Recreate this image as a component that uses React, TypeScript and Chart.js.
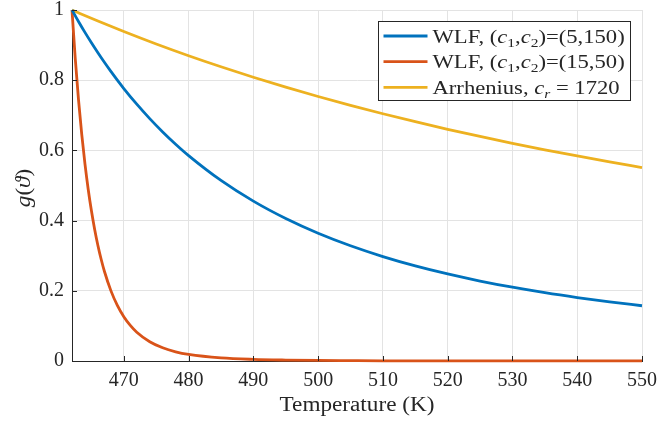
import React, { useEffect, useRef } from "react";
import { Chart, registerables } from "chart.js";

Chart.register(...registerables);

// WLF, (c1,c2)=(5,150)
const wlfATemp = [462, 463, 464, 465, 466, 467, 468, 469, 470, 472, 474, 476, 478, 480, 485, 490, 495, 500, 505, 510, 515, 520, 525, 530, 535, 540, 545, 550];
const wlfAValues = [1, 0.9674, 0.9363, 0.9066, 0.8782, 0.851, 0.825, 0.8002, 0.7763, 0.7316, 0.6905, 0.6526, 0.6176, 0.5852, 0.5144, 0.4554, 0.4059, 0.364, 0.3283, 0.2976, 0.271, 0.248, 0.2279, 0.2102, 0.1946, 0.1808, 0.1684, 0.1574];

// WLF, (c1,c2)=(15,50)
const wlfBTemp = [462, 462.5, 463, 463.5, 464, 464.5, 465, 465.5, 466, 466.5, 467, 468, 469, 470, 471, 472, 474, 476, 478, 480, 485, 490, 495, 500, 505, 510, 515, 520, 525, 530, 535, 540, 545, 550];
const wlfBValues = [1, 0.862, 0.7452, 0.6461, 0.5616, 0.4895, 0.4278, 0.3748, 0.3292, 0.2898, 0.2557, 0.2005, 0.1585, 0.1263, 0.1014, 0.0821, 0.0548, 0.0376, 0.0263, 0.0189, 0.0089, 0.0046, 0.0026, 0.0015, 0.001, 0.0006, 0.0004, 0.0003, 0.0002, 0.0002, 0.0001, 0.0001, 0.0001, 0.0001];

// Arrhenius, c_r = 1720
const arrTemp = [462, 463, 466, 470, 475, 480, 485, 490, 495, 500, 505, 510, 515, 520, 525, 530, 535, 540, 545, 550];
const arrValues = [1, 0.992, 0.9685, 0.9386, 0.9031, 0.8697, 0.8382, 0.8084, 0.7802, 0.7536, 0.7283, 0.7044, 0.6817, 0.6602, 0.6397, 0.6202, 0.6017, 0.5841, 0.5672, 0.5512];

const xTickValues = [470, 480, 490, 500, 510, 520, 530, 540, 550];
const yTickValues = [0, 0.2, 0.4, 0.6, 0.8, 1];
const xMin = 462;
const xMax = 550;

const seriesColors = ["#0072BD", "#D95319", "#EDB120"];

// legend segments: [text, style] where n=normal, i=italic, s=subscript, si=italic subscript
const legendLabels: [string, string][][] = [
  [["WLF, (", "n"], ["c", "i"], ["1", "s"], [",", "n"], ["c", "i"], ["2", "s"], [")=(5,150)", "n"]],
  [["WLF, (", "n"], ["c", "i"], ["1", "s"], [",", "n"], ["c", "i"], ["2", "s"], [")=(15,50)", "n"]],
  [["Arrhenius, ", "n"], ["c", "i"], ["r", "si"], [" = 1720", "n"]],
];

const xTitle = "Temperature (K)";
const yTitleSegments: [string, string][] = [["g", "i"], ["(", "n"], ["ϑ", "i"], [")", "n"]];

const FAMILY = "'Liberation Serif', 'Times New Roman', serif";
const TEXT = "#262626";
const LEGEND_STRETCH = 1.19;
const TITLE_STRETCH = 1.16;

function fontFor(style: string, size: number) {
  const sub = style === "s" || style === "si";
  const ital = style === "i" || style === "si";
  const s = sub ? Math.round(size * 0.7) : size;
  return `${ital ? "italic " : ""}${s}px ${FAMILY}`;
}

function segWidth(ctx: CanvasRenderingContext2D, segs: [string, string][], size: number) {
  let w = 0;
  for (const [t, st] of segs) {
    ctx.font = fontFor(st, size);
    w += ctx.measureText(t).width;
  }
  return w;
}

function drawSegs(ctx: CanvasRenderingContext2D, segs: [string, string][], size: number, x: number, y: number) {
  let cx = x;
  ctx.textBaseline = "alphabetic";
  ctx.textAlign = "left";
  for (const [t, st] of segs) {
    ctx.font = fontFor(st, size);
    const dy = st === "s" || st === "si" ? size * 0.22 : 0;
    ctx.fillText(t, cx, y + dy);
    cx += ctx.measureText(t).width;
  }
}

const overlayPlugin = {
  id: "overlay",
  afterDraw(chart: any) {
    const ctx: CanvasRenderingContext2D = chart.ctx;
    const area = chart.chartArea;
    const xs = chart.scales.x;
    const ys = chart.scales.y;
    ctx.save();
    // inward tick marks
    ctx.strokeStyle = TEXT;
    ctx.lineWidth = 1;
    ctx.beginPath();
    for (const v of xTickValues) {
      const px = Math.round(xs.getPixelForValue(v)) + 0.5;
      ctx.moveTo(px, area.bottom);
      ctx.lineTo(px, area.bottom - 5);
    }
    for (const v of yTickValues) {
      const py = Math.round(ys.getPixelForValue(v)) + 0.5;
      ctx.moveTo(area.left, py);
      ctx.lineTo(area.left + 5, py);
    }
    ctx.stroke();

    // legend
    const size = 19;
    let maxW = 0;
    for (const segs of legendLabels) maxW = Math.max(maxW, segWidth(ctx, segs, size) * LEGEND_STRETCH);
    const boxRight = area.right - 11.5;
    const boxTop = area.top + 11.5;
    const boxW = Math.round(maxW + 54 + 6);
    const boxH = 79;
    const boxLeft = boxRight - boxW;
    ctx.fillStyle = "#ffffff";
    ctx.fillRect(boxLeft, boxTop, boxW, boxH);
    ctx.strokeStyle = TEXT;
    ctx.lineWidth = 1;
    ctx.strokeRect(boxLeft, boxTop, boxW, boxH);
    const rowH = 25.7;
    legendLabels.forEach((segs, i) => {
      const cy = boxTop + 14.5 + i * rowH;
      ctx.strokeStyle = seriesColors[i];
      ctx.lineWidth = 2.8;
      ctx.beginPath();
      ctx.moveTo(boxLeft + 5, cy);
      ctx.lineTo(boxLeft + 49, cy);
      ctx.stroke();
      ctx.fillStyle = TEXT;
      ctx.save();
      ctx.translate(boxLeft + 54, cy + 6.5);
      ctx.scale(LEGEND_STRETCH, 1);
      drawSegs(ctx, segs, size, 0, 0);
      ctx.restore();
    });

    // x title
    ctx.fillStyle = TEXT;
    ctx.font = `20px ${FAMILY}`;
    ctx.save();
    ctx.translate((area.left + area.right) / 2, 411);
    ctx.scale(TITLE_STRETCH, 1);
    ctx.textAlign = "center";
    ctx.textBaseline = "alphabetic";
    ctx.fillText(xTitle, 0, 0);
    ctx.restore();

    // y title
    ctx.save();
    const yw = segWidth(ctx, yTitleSegments, 20);
    ctx.translate(30, 188);
    ctx.rotate(-Math.PI / 2);
    ctx.scale(TITLE_STRETCH, 1);
    drawSegs(ctx, yTitleSegments, 20, -yw / 2, 0);
    ctx.restore();

    ctx.restore();
  },
};

export default function App() {
  const canvasRef = useRef<HTMLCanvasElement | null>(null);

  useEffect(() => {
    document.body.style.margin = "0";
    const canvas = canvasRef.current!;
    const mk = (tx: number[], vy: number[]) => tx.map((t, i) => ({ x: t, y: vy[i] }));
    const tickFont = { family: FAMILY, size: 20 };
    const chart = new Chart(canvas, {
      type: "line",
      data: {
        datasets: [
          { label: "WLF (5,150)", data: mk(wlfATemp, wlfAValues), borderColor: seriesColors[0], borderWidth: 2.8, pointRadius: 0, cubicInterpolationMode: "monotone", clip: false },
          { label: "WLF (15,50)", data: mk(wlfBTemp, wlfBValues), borderColor: seriesColors[1], borderWidth: 2.8, pointRadius: 0, cubicInterpolationMode: "monotone", clip: false },
          { label: "Arrhenius", data: mk(arrTemp, arrValues), borderColor: seriesColors[2], borderWidth: 2.8, pointRadius: 0, cubicInterpolationMode: "monotone", clip: false },
        ],
      } as any,
      options: {
        animation: false,
        responsive: false,
        devicePixelRatio: 1,
        layout: { padding: { top: 10, right: 15, left: 0, bottom: 0 } },
        plugins: { legend: { display: false }, tooltip: { enabled: false } },
        scales: {
          x: {
            type: "linear",
            min: xMin,
            max: xMax,
            afterBuildTicks: (s: any) => { s.ticks = xTickValues.map((v) => ({ value: v })); },
            afterFit: (s: any) => { s.height = 60; s.paddingLeft = 0; s.paddingRight = 0; },
            grid: { color: "#e3e3e3", drawTicks: false },
            border: { color: TEXT, width: 1 },
            ticks: { font: tickFont, color: TEXT, padding: 8, maxRotation: 0, autoSkip: false, callback: (v: any) => String(v) },
          },
          y: {
            type: "linear",
            min: 0,
            max: 1,
            afterBuildTicks: (s: any) => { s.ticks = yTickValues.map((v) => ({ value: v })); },
            afterFit: (s: any) => { s.width = 72; s.paddingTop = 0; s.paddingBottom = 0; },
            grid: { color: "#e3e3e3", drawTicks: false },
            border: { color: TEXT, width: 1 },
            ticks: { font: tickFont, color: TEXT, padding: 8, autoSkip: false, callback: (v: any) => String(v) },
          },
        },
      } as any,
      plugins: [overlayPlugin],
    });
    return () => chart.destroy();
  }, []);

  return (
    <div style={{ position: "absolute", left: 0, top: 0, width: 657, height: 421, background: "#fff" }}>
      <canvas ref={canvasRef} width={657} height={421} />
    </div>
  );
}
